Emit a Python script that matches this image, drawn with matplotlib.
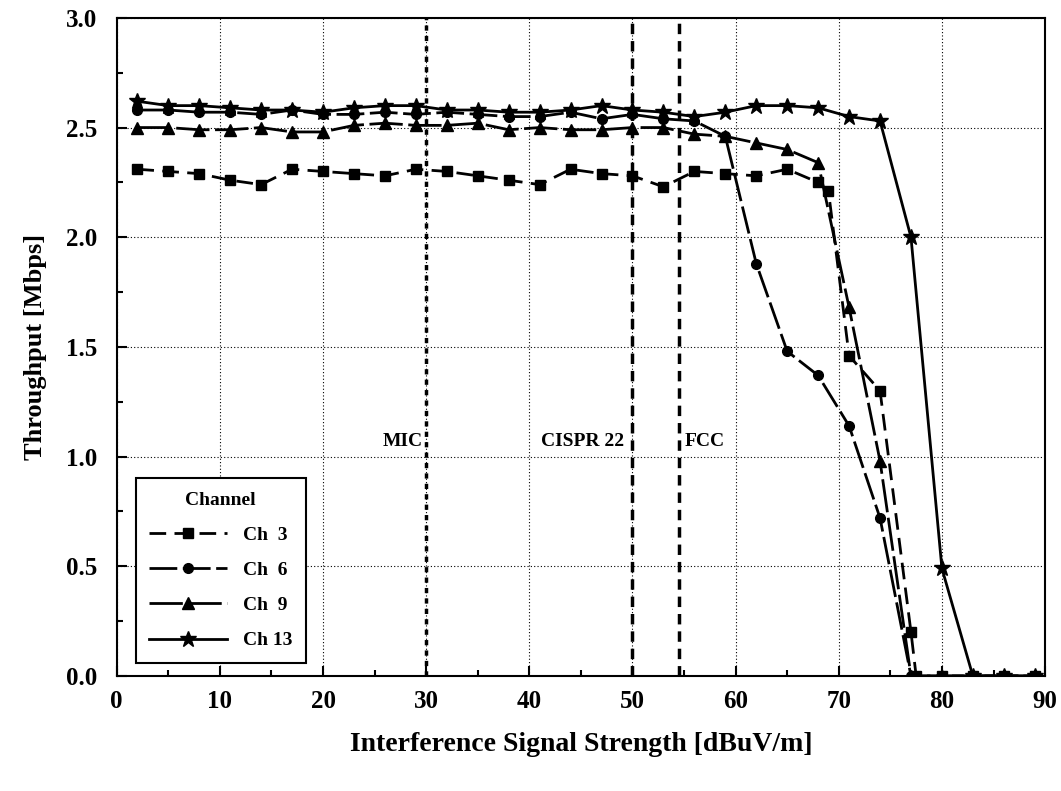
import numpy as np
import matplotlib
matplotlib.use("Agg")
import matplotlib.pyplot as plt
from matplotlib.ticker import MultipleLocator

plt.rcParams['font.family'] = ['Liberation Serif', 'DejaVu Serif']
plt.rcParams['font.weight'] = 'bold'

# interference level (dBuV/m)
x_common = [2, 5, 8, 11, 14, 17, 20, 23, 26, 29, 32, 35, 38, 41, 44, 47, 50, 53,
            56, 59, 62, 65, 68, 71, 74, 77, 80, 83, 86, 89]
x_ch3 = [2, 5, 8, 11, 14, 17, 20, 23, 26, 29, 32, 35, 38, 41, 44, 47, 50, 53,
         56, 59, 62, 65, 68, 69, 71, 74, 77, 77.5, 80, 83, 86, 89]

# throughput (Mbps)
ch3 = [2.31, 2.30, 2.29, 2.26, 2.24, 2.31, 2.30, 2.29, 2.28, 2.31, 2.30, 2.28,
       2.26, 2.24, 2.31, 2.29, 2.28, 2.23, 2.30, 2.29, 2.28, 2.31, 2.25, 2.21,
       1.46, 1.30, 0.20, 0.0, 0.0, 0.0, 0.0, 0.0]
ch6 = [2.58, 2.58, 2.57, 2.57, 2.56, 2.58, 2.56, 2.56, 2.57, 2.56, 2.57, 2.56,
       2.55, 2.55, 2.57, 2.54, 2.56, 2.54, 2.53, 2.46, 1.88, 1.48, 1.37, 1.14,
       0.72, 0.0, 0.0, 0.0, 0.0, 0.0]
ch9 = [2.50, 2.50, 2.49, 2.49, 2.50, 2.48, 2.48, 2.51, 2.52, 2.51, 2.51, 2.52,
       2.49, 2.50, 2.49, 2.49, 2.50, 2.50, 2.47, 2.46, 2.43, 2.40, 2.34, 1.68,
       0.98, 0.0, 0.0, 0.0, 0.0, 0.0]
ch13 = [2.62, 2.60, 2.60, 2.59, 2.58, 2.58, 2.57, 2.59, 2.60, 2.60, 2.58, 2.58,
        2.57, 2.57, 2.58, 2.60, 2.58, 2.57, 2.55, 2.57, 2.60, 2.60, 2.59, 2.55,
        2.53, 2.00, 0.49, 0.0, 0.0, 0.0]

limits = [30, 50, 54.5]
limit_names = ["MIC", "CISPR 22", "FCC"]

fig = plt.figure(figsize=(10.61, 7.91), dpi=100)
ax = fig.add_axes([0.110, 0.1454, 0.875, 0.832])

ax.plot(x_ch3, ch3, color='black', lw=2, ls=(0, (6, 3)), marker='s', ms=7, label='Ch  3')
ax.plot(x_common, ch6, color='black', lw=2, ls=(0, (10, 2)), marker='o', ms=7, label='Ch  6')
ax.plot(x_common, ch9, color='black', lw=2, ls=(0, (12, 2)), marker='^', ms=8, label='Ch  9')
ax.plot(x_common, ch13, color='black', lw=2, ls='-', marker='*', ms=12, label='Ch 13')

ax.axvline(limits[0], color='black', lw=2.5, ls=(0, (1.5, 1.5)))
ax.axvline(limits[1], color='black', lw=2.5, ls=(0, (3, 2)))
ax.axvline(limits[2], color='black', lw=2.5, ls=(0, (3, 2)))

ax.text(limits[0] - 0.3, 1.03, limit_names[0], ha='right', va='bottom', fontsize=14, fontweight='bold')
ax.text(limits[1] - 0.8, 1.03, limit_names[1], ha='right', va='bottom', fontsize=14, fontweight='bold')
ax.text(limits[2] + 0.6, 1.03, limit_names[2], ha='left', va='bottom', fontsize=14, fontweight='bold')

ax.set_xlim(0, 90)
ax.set_ylim(0, 3.0)
ax.xaxis.set_major_locator(MultipleLocator(10))
ax.xaxis.set_minor_locator(MultipleLocator(5))
ax.yaxis.set_major_locator(MultipleLocator(0.5))
ax.yaxis.set_minor_locator(MultipleLocator(0.25))
ax.yaxis.set_major_formatter(matplotlib.ticker.FormatStrFormatter('%.1f'))
ax.tick_params(which='both', direction='in', labelsize=18, width=1.5)
ax.tick_params(axis='y', which='major', length=7, pad=14)
ax.tick_params(axis='x', which='major', length=7, pad=10)
ax.tick_params(which='minor', length=4)
ax.grid(True, which='major', color='black', ls=(0, (1, 2)), lw=0.8)
for s in ax.spines.values():
    s.set_linewidth(1.5)

ax.set_xlabel("Interference Signal Strength [dBuV/m]", fontsize=20, fontweight='bold', labelpad=14)
ax.set_ylabel("Throughput [Mbps]", fontsize=19, fontweight='bold', labelpad=14)

leg = ax.legend(loc='lower left', bbox_to_anchor=(0.01, 0.005), title='Channel',
                fontsize=14, title_fontproperties={'weight': 'bold', 'size': 14},
                handlelength=4, fancybox=False, edgecolor='black', framealpha=1,
                borderpad=0.7, labelspacing=0.9)
leg.get_frame().set_linewidth(1.5)

fig.savefig("out.png", dpi=100)
